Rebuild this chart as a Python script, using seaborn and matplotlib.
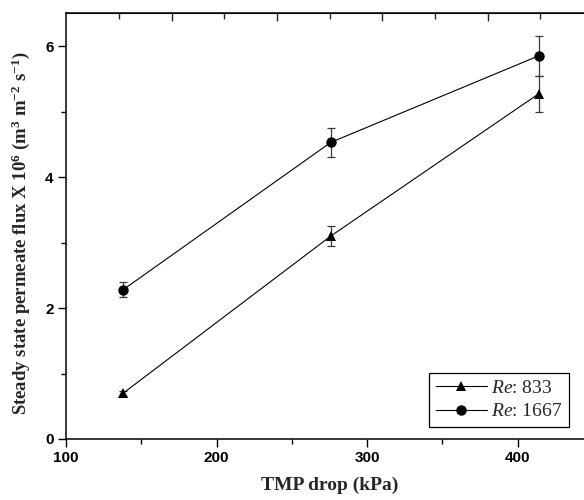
import numpy as np
import pandas as pd
import matplotlib
matplotlib.use("Agg")
import matplotlib.pyplot as plt
from matplotlib.lines import Line2D
import seaborn as sns

# Transmembrane pressure drop (kPa)
tmp_kpa = [138, 276, 414]

# Steady state permeate flux x 1e6 (m3 m-2 s-1) and standard deviations
flux_re833 = [0.70, 3.10, 5.27]
err_re833 = [0.04, 0.15, 0.27]
flux_re1667 = [2.28, 4.53, 5.85]
err_re1667 = [0.11, 0.22, 0.30]

series_labels = ["833", "1667"]

df = pd.DataFrame({
    "tmp": tmp_kpa * 2,
    "flux": flux_re833 + flux_re1667,
    "err": err_re833 + err_re1667,
    "re": [series_labels[0]] * 3 + [series_labels[1]] * 3,
})

sns.set_style("ticks")
plt.rcParams["font.family"] = ["Liberation Sans", "DejaVu Sans"]
plt.rcParams["mathtext.fontset"] = "custom"
plt.rcParams["mathtext.rm"] = "Liberation Serif"
plt.rcParams["mathtext.it"] = "Liberation Serif:italic"
plt.rcParams["mathtext.bf"] = "Liberation Serif:bold"

fig = plt.figure(figsize=(5.84, 5.0), dpi=100)
ax = fig.add_axes([66 / 584, 61 / 500, 526.8 / 584, 425.7 / 500])

MS = 7.5
markers = {"833": "^", "1667": "o"}
sns.lineplot(data=df, x="tmp", y="flux", hue="re", style="re",
             markers=markers, dashes=False,
             palette={"833": "black", "1667": "black"},
             markersize=MS, linewidth=0.8, markeredgewidth=0,
             legend=False, ax=ax, zorder=3)

for lab in series_labels:
    sub = df[df["re"] == lab]
    ax.errorbar(sub["tmp"], sub["flux"], yerr=sub["err"], fmt="none",
                ecolor="#3a3a3a", elinewidth=0.9, capsize=3.0,
                capthick=0.9, zorder=2)

ax.set_xlim(100, 450)
ax.set_ylim(0, 6.5)
ax.set_xticks([100, 200, 300, 400])
ax.set_xticks([150, 250, 350], minor=True)
ax.set_yticks([0, 2, 4, 6])
ax.set_yticks([1, 3, 5], minor=True)

for s in ax.spines.values():
    s.set_linewidth(1.1)
    s.set_color("black")

ax.tick_params(axis="both", which="major", direction="out", length=6,
               width=1.0, colors="black", labelsize=11, pad=3)
ax.tick_params(axis="both", which="minor", direction="out", length=3.5,
               width=1.0, colors="black")
for t in ax.get_xticklabels() + ax.get_yticklabels():
    t.set_fontweight("bold")

# secondary scale on the top edge: inward ticks without labels
top = ax.secondary_xaxis("top")
top.set_xticks([170.4, 240.2, 310.0, 380.4])
top.set_xticks([135.2, 205.0, 275.4, 345.2, 415.0], minor=True)
top.tick_params(which="major", direction="in", length=6, width=1.0,
                labeltop=False)
top.tick_params(which="minor", direction="in", length=4, width=1.0)

ax.set_xlabel("TMP drop (kPa)", fontfamily="Liberation Serif",
              fontweight="bold", fontsize=14)
ax.set_ylabel(r"Steady state permeate flux X 10$^{\mathbf{6}}$ "
              r"(m$^{\mathbf{3}}$ m$^{\mathbf{-2}}$ s$^{\mathbf{-1}}$)",
              fontfamily="Liberation Serif", fontweight="bold", fontsize=13.5)
ax.xaxis.set_label_coords(0.5, -0.088)
ax.yaxis.set_label_coords(-0.064, 0.484)

handles = [
    Line2D([], [], color="black", lw=0.8, marker="^", markersize=MS,
           markeredgewidth=0),
    Line2D([], [], color="black", lw=0.8, marker="o", markersize=MS,
           markeredgewidth=0),
]
labels = [r"$\mathit{Re}$: " + series_labels[0],
          r"$\mathit{Re}$: " + series_labels[1]]
leg = fig.legend(handles, labels, loc="lower right",
                 bbox_to_anchor=(568.7 / 584, (500 - 427.3) / 500),
                 prop={"family": "Liberation Serif", "size": 14},
                 frameon=True, fancybox=False, edgecolor="black",
                 framealpha=1, borderpad=0.35, labelspacing=0.3,
                 handlelength=2.6, handletextpad=0.2, borderaxespad=0)
leg.get_frame().set_linewidth(0.9)

fig.savefig("out.png", dpi=100)
